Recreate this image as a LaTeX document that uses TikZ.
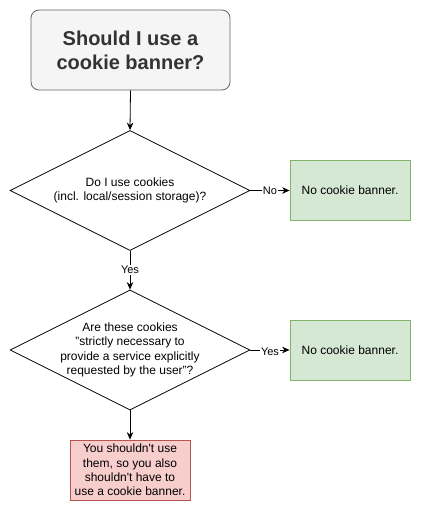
\documentclass[tikz,border=0pt]{standalone}
\usepackage{fontspec}
\setmainfont{Liberation Sans}
\usetikzlibrary{shapes.geometric,arrows.meta}
\definecolor{titlefill}{HTML}{F5F5F5}
\definecolor{titleline}{HTML}{666666}
\definecolor{titletext}{HTML}{333333}
\definecolor{greenfill}{HTML}{D5E8D4}
\definecolor{greenline}{HTML}{82B366}
\definecolor{redfill}{HTML}{F8CECC}
\definecolor{redline}{HTML}{B85450}
\tikzset{
  titlebox/.style={draw=titleline, fill=titlefill, rounded corners=8pt, minimum width=199pt, minimum height=80pt, inner sep=0pt, align=center, text=titletext, font=\fontsize{20}{24}\selectfont\bfseries, line width=0.8pt},
  decision/.style={draw, diamond, minimum width=240pt, minimum height=120pt, inner sep=0pt, line width=0.8pt},
  dtext/.style={align=center, font=\fontsize{12}{14.4}\selectfont, inner sep=0pt},
  goodbox/.style={draw=greenline, fill=greenfill, minimum width=120pt, minimum height=60pt, inner sep=0pt, align=center, font=\fontsize{12}{14.4}\selectfont, line width=0.8pt},
  badbox/.style={draw=redline, fill=redfill, minimum width=120pt, minimum height=60pt, inner sep=0pt, align=center, font=\fontsize{12}{14.4}\selectfont, line width=0.8pt},
  flow/.style={draw, line width=0.8pt, -{Stealth[length=7.5pt,width=6.5pt]}},
  elabel/.style={fill=white, inner sep=1pt, font=\fontsize{11}{13}\selectfont},
}
\begin{document}
\begin{tikzpicture}[x=1pt,y=-1pt]
\useasboundingbox (0,0) rectangle (421,511);
\node[titlebox] (title) at (130.5,50) {Should I use a\\cookie banner?};
\node[decision] (d1) at (130,190.5) {};
\node[dtext] (d1t) at (d1.center) {Do I use cookies\\(incl. local/session storage)?};
\node[goodbox] (g1) at (350,190) {No cookie banner.};
\node[decision] (d2) at (130,350) {};
\node[dtext] (d2t) at (d2.center) {Are these cookies\\"strictly necessary to\\provide a service explicitly\\requested by the user"?};
\node[goodbox] (g2) at (350,350) {No cookie banner.};
\node[badbox] (r1) at (130,470) {You shouldn\textquotesingle t use\\them, so you also\\shouldn\textquotesingle t have to\\use a cookie banner.};
\draw[flow] (title.south) -- (d1.north);
\draw[flow] (d1.east) -- node[elabel] {No} (d1.east -| g1.west);
\draw[flow] (d1.south) -- node[elabel] {Yes} (d2.north);
\draw[flow] (d2.east) -- node[elabel, yshift=-2pt] {Yes} (d2.east -| g2.west);
\draw[flow] (d2.south) -- (r1.north);
\end{tikzpicture}
\end{document}
